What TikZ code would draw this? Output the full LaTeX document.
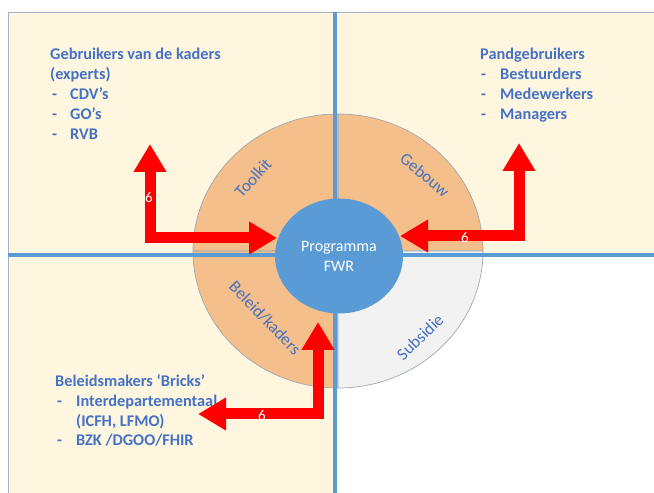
\documentclass[tikz,border=0pt]{standalone}
\usepackage{fontspec}
\setmainfont{Carlito}
\usetikzlibrary{arrows.meta,shapes.geometric}
\definecolor{cream}{HTML}{FFF6E0}
\definecolor{frame}{HTML}{A3B5CC}
\definecolor{bline}{HTML}{5B9BD5}
\definecolor{ringor}{HTML}{F4BF8A}
\definecolor{ringgray}{HTML}{F2F2F2}
\definecolor{ringedge}{HTML}{9FA8B4}
\definecolor{txtblue}{HTML}{4472C4}
\definecolor{core}{HTML}{5B9BD5}
\begin{document}
\begin{tikzpicture}[x=1pt,y=1pt,
  quad/.style={fill=cream, draw=frame, line width=0.8pt},
  divider/.style={draw=bline, line width=4pt},
  sector/.style={draw=ringedge, line width=0.7pt},
  lbl/.style={font=\fontsize{16.3}{18}\selectfont\bfseries, text=txtblue, inner sep=0pt, anchor=base west},
  ringlbl/.style={font=\fontsize{17}{18}\selectfont, text=txtblue, inner sep=0pt},
  bigarrow/.style={draw=red, line width=11pt, line join=miter, arrows={Triangle[length=28pt,width=31pt]-Triangle[length=28pt,width=31pt]}},
  num/.style={font=\fontsize{15}{16}\selectfont, text=white, inner sep=0pt}
]
\useasboundingbox (0,0) rectangle (654,493);
% quadrants
\path[quad] (8,238) rectangle (335,481);
\path[quad] (335,238) rectangle (660,481);
\path[quad] (8,-5) rectangle (334,238);
% ring
\coordinate (oc) at (338,242);
\path[sector, fill=ringor] (oc) -- ++(145,0) arc[start angle=0,end angle=90,x radius=145,y radius=137] -- cycle;
\path[sector, fill=ringor] (oc) -- ++(0,137) arc[start angle=90,end angle=180,x radius=145,y radius=137] -- cycle;
\path[sector, fill=ringor] (oc) -- ++(-145,0) arc[start angle=180,end angle=270,x radius=145,y radius=137] -- cycle;
\path[sector, fill=ringgray] (oc) -- ++(0,-137) arc[start angle=270,end angle=360,x radius=145,y radius=137] -- cycle;
% dividers
\coordinate (vt) at (335,481); \coordinate (vb) at (335,-2);
\coordinate (hl) at (8,238); \coordinate (hr) at (656,238);
\draw[divider] (vt) -- (vb);
\draw[divider] (hl) -- (hr);
% core
\node[ellipse, fill=core, minimum width=128pt, minimum height=115pt, inner sep=0pt,
      text=white, align=center, font=\fontsize{16}{20}\selectfont] (prog) at (339,237) {Programma\\FWR};
% ring labels
\node[ringlbl, rotate=48] (tk) at (253,315) {Toolkit};
\node[ringlbl, rotate=-40] (gb) at (425,318) {Gebouw};
\node[ringlbl, rotate=-46] (bk) at (265,175) {Beleid/kaders};
\node[ringlbl, rotate=44] (sb) at (420,156) {Subsidie};
% text blocks
\node[lbl] (g1) at (50,433) {Gebruikers van de kaders};
\node[lbl] (g2) at (50,413) {(experts)};
\node[lbl] (g3d) at (52,393) {-}; \node[lbl] (g3) at (70,393) {CDV’s};
\node[lbl] (g4d) at (52,373) {-}; \node[lbl] (g4) at (70,373) {GO’s};
\node[lbl] (g5d) at (52,353) {-}; \node[lbl] (g5) at (70,353) {RVB};
\node[lbl] (p1) at (480,433) {Pandgebruikers};
\node[lbl] (p2d) at (481,413) {-}; \node[lbl] (p2) at (500,413) {Bestuurders};
\node[lbl] (p3d) at (481,393) {-}; \node[lbl] (p3) at (500,393) {Medewerkers};
\node[lbl] (p4d) at (481,373) {-}; \node[lbl] (p4) at (500,373) {Managers};
\node[lbl] (b1) at (55,106) {Beleidsmakers ‘Bricks’};
\node[lbl] (b2d) at (57,86) {-}; \node[lbl] (b2) at (76,86) {Interdepartementaal};
\node[lbl] (b3) at (76,66) {(ICFH, LFMO)};
\node[lbl] (b4d) at (57,47) {-}; \node[lbl] (b4) at (76,47) {BZK /DGOO/FHIR};
% arrows
\coordinate (a1s) at (150,349); \coordinate (a1e) at (277,255);
\coordinate (a2s) at (519,350); \coordinate (a2e) at (400,257);
\coordinate (a3s) at (318,171); \coordinate (a3e) at (198,79);
\draw[bigarrow] (a1s) |- (a1e);
\draw[bigarrow] (a2s) |- (a2e);
\draw[bigarrow] (a3s) |- (a3e);
\node[num] (n1) at (149,296) {6};
\node[num] (n2) at (465,256) {6};
\node[num] (n3) at (262,78) {6};
\end{tikzpicture}
\end{document}
